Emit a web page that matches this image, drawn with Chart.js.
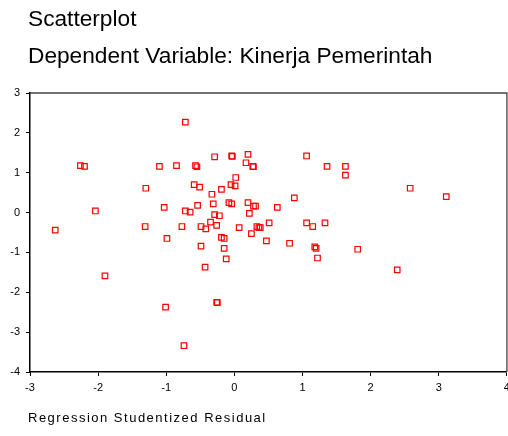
<!DOCTYPE html>
<html><head><meta charset="utf-8">
<script src="https://cdn.jsdelivr.net/npm/chart.js@4/dist/chart.umd.min.js"></script>
<style>html,body{margin:0;padding:0;background:#fff;overflow:hidden;width:508px;height:436px}</style>
</head><body>
<canvas id="c" width="512" height="436"></canvas>
<script>
const titleText = "Scatterplot";
const subtitleText = "Dependent Variable: Kinerja Pemerintah";
const xAxisTitle = "Regression Studentized Residual";
const xTickValues = [-3, -2, -1, 0, 1, 2, 3, 4];
const yTickValues = [-4, -3, -2, -1, 0, 1, 2, 3];
const residualX = [-0.72, -2.26, -2.20, -2.04, -2.63, -1.30, -1.31, -1.10, -1.03, -0.85,
  -0.77, -0.72, -0.65, -0.59, -0.57, -0.55, -0.51, -0.54, -0.49, -0.42,
  -0.33, -0.29, -0.31, -0.29, -0.22, -0.35, -0.26, -0.19, -0.08, -0.04,
  -0.05, 0.01, 0.02, -0.04, -0.03, 0.20, 0.17, 0.27, 0.28, 0.20,
  0.28, 0.31, 0.22, 0.07, 0.33, 0.38, 0.36, 1.06, 1.36, 1.63,
  1.63, 2.58, 3.11, 0.88, 0.63, 0.51, 1.06, 1.15, 1.33, -0.99,
  -0.19, -0.15, -0.49, -0.15, -0.12, -0.43, -1.90, -0.26, -0.25, -1.01,
  -0.74, 0.25, 0.47, 0.81, 1.18, 1.20, 1.22, 1.81, 2.39];
const residualY = [2.27, 1.18, 1.16, 0.04, -0.44, 0.61, -0.35, 1.16, 0.13, 1.18,
  -0.35, 0.04, 0.01, 0.70, 1.18, 1.15, 0.64, 0.18, -0.35, -0.41,
  0.46, 1.40, 0.22, -0.05, -0.08, -0.24, -0.32, 0.58, 0.25, 0.22,
  0.70, 0.67, 0.88, 1.42, 1.41, 1.46, 1.25, 1.16, 1.15, 0.25,
  0.16, 0.16, -0.02, -0.38, -0.35, -0.38, -0.38, 1.42, 1.16, 1.16,
  0.94, 0.61, 0.40, 0.37, 0.13, -0.26, -0.26, -0.35, -0.26, -0.65,
  -0.62, -0.65, -0.84, -0.90, -1.16, -1.37, -1.59, -2.25, -2.26, -2.37,
  -3.34, -0.53, -0.71, -0.77, -0.86, -0.90, -1.14, -0.92, -1.44];

const points = residualX.map((x, i) => ({ x: x, y: residualY[i] }));

const FONT = '"Liberation Sans", Arial, sans-serif';

const framePlugin = {
  id: 'frame',
  beforeDatasetsDraw(chart) {
    const { ctx, chartArea: a } = chart;
    ctx.save();
    ctx.strokeStyle = '#444';
    ctx.lineWidth = 1.3;
    ctx.beginPath();
    ctx.moveTo(a.left, a.top);
    ctx.lineTo(a.right, a.top);
    ctx.lineTo(a.right, a.bottom);
    ctx.stroke();
    ctx.restore();
  }
};

const textPlugin = {
  id: 'texts',
  afterDraw(chart) {
    const ctx = chart.ctx;
    ctx.save();
    ctx.fillStyle = '#000';
    ctx.textAlign = 'left';
    ctx.textBaseline = 'alphabetic';
    ctx.font = '22.7px ' + FONT;
    ctx.fillText(titleText, 28, 26);
    ctx.fillText(subtitleText, 28, 63);
    ctx.font = '13px ' + FONT;
    ctx.letterSpacing = '1.5px';
    ctx.fillText(xAxisTitle, 28, 422);
    ctx.restore();
  }
};

new Chart(document.getElementById('c'), {
  type: 'scatter',
  data: {
    datasets: [{
      data: points,
      pointStyle: 'rect',
      pointRadius: 3.9,
      pointHoverRadius: 3.9,
      borderColor: '#ff0000',
      backgroundColor: 'rgba(255,255,255,0)',
      borderWidth: 1.2
    }]
  },
  options: {
    responsive: false,
    animation: false,
    devicePixelRatio: 1,
    layout: { padding: { top: 93, right: 0, left: 0, bottom: 0 } },
    plugins: { legend: { display: false }, tooltip: { enabled: false }, title: { display: false } },
    scales: {
      x: {
        type: 'linear',
        min: xTickValues[0],
        max: xTickValues[xTickValues.length - 1],
        afterFit(s) { s.height = 64; s.paddingLeft = 0; s.paddingRight = 0; },
        afterBuildTicks(s) { s.ticks = xTickValues.map(v => ({ value: v })); },
        ticks: { color: '#000', font: { family: FONT, size: 11 }, padding: 5, maxRotation: 0 },
        grid: { display: true, drawOnChartArea: false, drawTicks: true, tickLength: 4, color: '#000' },
        border: { display: true, color: '#000', width: 1.5 }
      },
      y: {
        type: 'linear',
        min: yTickValues[0],
        max: yTickValues[yTickValues.length - 1],
        afterFit(s) { s.width = 30; s.paddingTop = 0; s.paddingBottom = 0; },
        afterBuildTicks(s) { s.ticks = yTickValues.map(v => ({ value: v })); },
        ticks: { color: '#000', font: { family: FONT, size: 11 }, padding: 6 },
        grid: { display: true, drawOnChartArea: false, drawTicks: true, tickLength: 4, color: '#000' },
        border: { display: true, color: '#000', width: 1.5 }
      }
    }
  },
  plugins: [framePlugin, textPlugin]
});
</script>
</body></html>
